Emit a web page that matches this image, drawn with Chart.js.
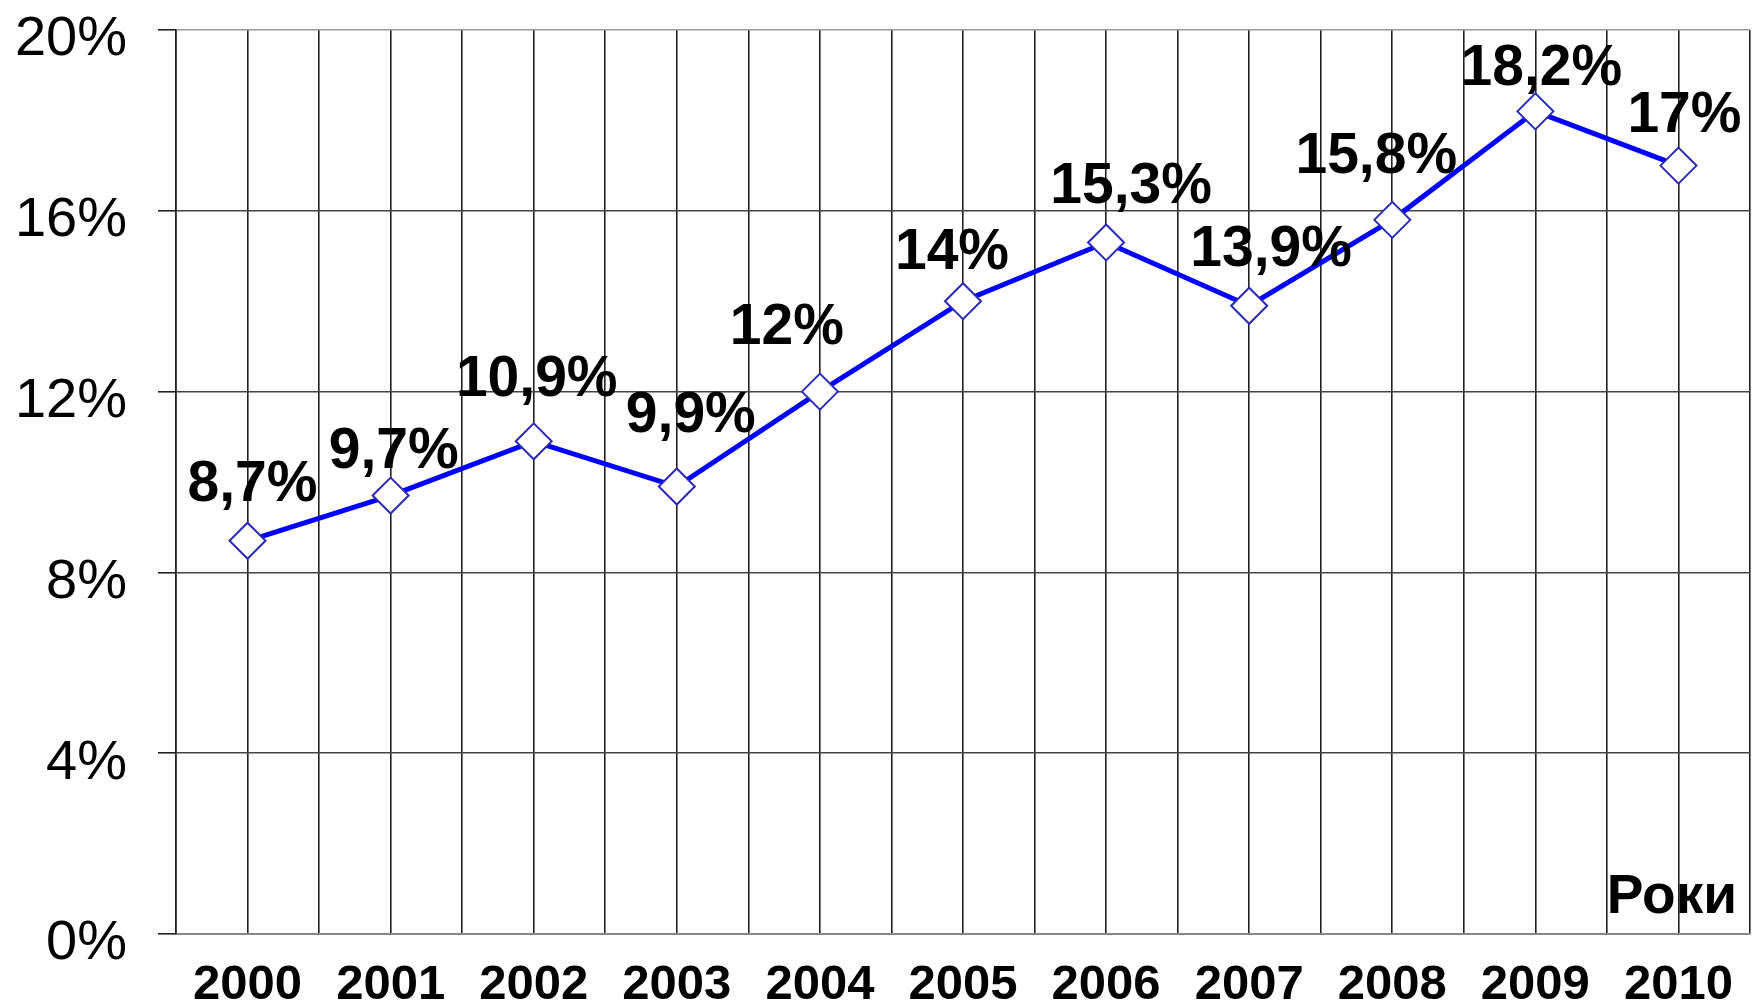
<!DOCTYPE html>
<html>
<head>
<meta charset="utf-8">
<title>Роки</title>
<script src="https://cdn.jsdelivr.net/npm/chart.js@4"></script>
<style>
  html, body { margin: 0; padding: 0; background: #fff; overflow: hidden; }
  #wrap { width: 1770px; height: 1007px; }
</style>
</head>
<body>
<div id="wrap"><canvas id="chart" width="1770" height="1007"></canvas></div>
<script>
// ===== Data =====
const years = ['2000', '2001', '2002', '2003', '2004', '2005', '2006', '2007', '2008', '2009', '2010'];
const shares = [8.7, 9.7, 10.9, 9.9, 12, 14, 15.3, 13.9, 15.8, 18.2, 17];
const yTicks = [0, 4, 8, 12, 16, 20];
const axisTitle = 'Роки';

// label nudges (px) relative to each point, [dx, dy to baseline]
const labelNudge = [[5, -40], [3, -28], [3, -45], [14, -55], [-33, -48], [-11, -32],
                    [25, -39], [22, -40], [-16, -47], [6, -26], [6, -34]];

const FONT = "'Liberation Sans', Arial, sans-serif";

function fmtPct(v) {
    return String(v).replace('.', ',') + '%';
}

// ===== Value labels + axis title =====
const valueLabels = {
    id: 'valueLabels',
    afterDatasetsDraw(chart) {
        const ctx = chart.ctx;
        const meta = chart.getDatasetMeta(0);
        ctx.save();
        ctx.fillStyle = '#000';
        ctx.font = 'bold 57px ' + FONT;
        ctx.textAlign = 'center';
        ctx.textBaseline = 'alphabetic';
        meta.data.forEach((pt, i) => {
            const n = labelNudge[i] || [0, -40];
            ctx.fillText(fmtPct(shares[i]), pt.x + n[0], pt.y + n[1]);
        });

        // "Роки" sits inside the plot, bottom right
        const area = chart.chartArea;
        ctx.font = 'bold 55px ' + FONT;
        ctx.textAlign = 'right';
        ctx.fillText(axisTitle, area.right - 13, area.bottom - 21);
        ctx.restore();
    }
};

new Chart(document.getElementById('chart'), {
    type: 'line',
    data: {
        labels: years,
        datasets: [{
            data: shares,
            xAxisID: 'x',
            borderColor: '#0000ff',
            borderWidth: 5,
            tension: 0,
            pointStyle: 'rectRot',
            pointRadius: 18,
            pointBackgroundColor: '#ffffff',
            pointBorderColor: '#2a2ab4',
            pointBorderWidth: 2
        }]
    },
    options: {
        responsive: false,
        animation: false,
        layout: { padding: { top: 30, right: 10, left: 0, bottom: 0 } },
        plugins: {
            legend: { display: false },
            tooltip: { enabled: false }
        },
        scales: {
            x: {
                type: 'category',
                offset: true,
                position: 'bottom',
                grid: {
                    offset: true,
                    color: '#222',
                    lineWidth: 1.6,
                    drawTicks: false
                },
                border: { color: '#888', width: 2 },
                ticks: {
                    color: '#000',
                    font: { family: FONT, size: 49, weight: 'bold' },
                    padding: 22,
                    maxRotation: 0,
                    autoSkip: false
                },
                afterFit(scale) {
                    scale.height = 73;
                    scale.paddingLeft = 0;
                    scale.paddingRight = 0;
                }
            },
            // second axis only to draw the lines through each year
            x2: {
                type: 'category',
                offset: true,
                position: 'bottom',
                grid: {
                    offset: false,
                    color: '#222',
                    lineWidth: 1.6,
                    drawTicks: false
                },
                border: { display: false },
                ticks: { display: false },
                afterFit(scale) {
                    scale.height = 0;
                    scale.paddingLeft = 0;
                    scale.paddingRight = 0;
                }
            },
            y: {
                min: 0,
                max: 20,
                afterBuildTicks(scale) {
                    scale.ticks = yTicks.map(v => ({ value: v }));
                },
                grid: {
                    color: ctx => (ctx.tick && ctx.tick.value === 20) ? '#999' : '#444',
                    lineWidth: 1.6,
                    tickLength: 18,
                    tickColor: '#222'
                },
                border: { color: '#222', width: 1.6 },
                ticks: {
                    color: '#000',
                    font: { family: FONT, size: 56 },
                    padding: 31,
                    labelOffset: 10,
                    callback: v => v + '%'
                },
                afterFit(scale) {
                    scale.width = 176;
                    scale.paddingTop = 0;
                    scale.paddingBottom = 0;
                }
            }
        }
    },
    plugins: [valueLabels]
});
</script>
</body>
</html>
